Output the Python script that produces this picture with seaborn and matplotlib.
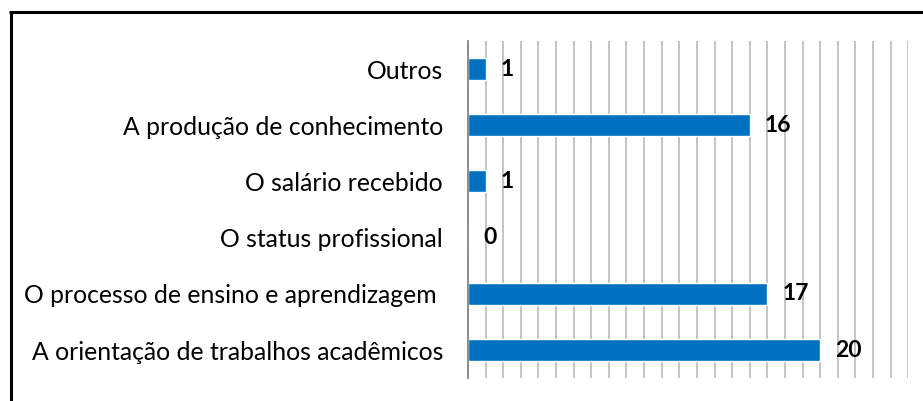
import pandas as pd
import seaborn as sns
import matplotlib.pyplot as plt
from matplotlib.lines import Line2D

categories = [
    "Outros",
    "A produção de conhecimento",
    "O salário recebido",
    "O status profissional",
    "O processo de ensino e aprendizagem ",
    "A orientação de trabalhos acadêmicos",
]
counts = [1, 16, 1, 0, 17, 20]

dat = pd.DataFrame({"categoria": categories, "total": counts})

sns.set_style("white")
plt.rcParams["font.family"] = ["Lato", "DejaVu Sans"]
plt.rcParams["text.color"] = "black"
plt.rcParams["ytick.color"] = "black"

fig = plt.figure(figsize=(9.23, 4.01), dpi=100)
ax = fig.add_axes([0.507, 0.057, 0.477, 0.841])

sns.barplot(data=dat, y="categoria", x="total", orient="h",
            color="#0070C0", saturation=1, width=0.39, ax=ax)

ax.set_xlim(0, 25)
ax.set_xticks(range(0, 26))
ax.set_xticklabels([])
ax.grid(axis="x", color="#BFBFBF", linewidth=1.3)
ax.set_axisbelow(True)
ax.tick_params(axis="both", length=0)
ax.tick_params(axis="y", pad=18, labelsize=17.8, labelcolor="black")
ax.set_xlabel("")
ax.set_ylabel("")

# Remove borders except left axis line
for t in ["top", "right", "bottom"]:
    ax.spines[t].set_visible(False)
ax.spines["left"].set_color("#868686")
ax.spines["left"].set_linewidth(1.3)

ax.bar_label(ax.containers[0], padding=11, fontsize=16.5, fontweight="bold",
             color="black")

# Outer frame (left and top edges visible)
fig.add_artist(Line2D([10.5 / 923, 10.5 / 923], [0, 1 - 12 / 401],
                      transform=fig.transFigure, color="black", linewidth=2.2,
                      solid_capstyle="butt"))
fig.add_artist(Line2D([9 / 923, 1], [1 - 12 / 401, 1 - 12 / 401],
                      transform=fig.transFigure, color="black", linewidth=2.2,
                      solid_capstyle="butt"))

fig.savefig("out.png", dpi=100)
